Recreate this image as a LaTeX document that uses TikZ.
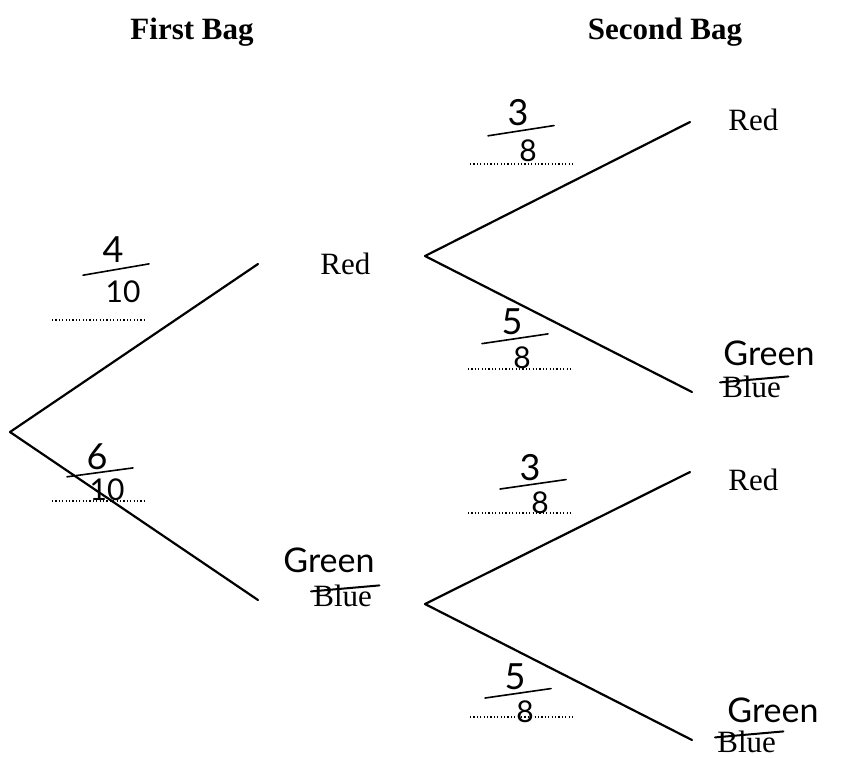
\documentclass[tikz,border=0pt]{standalone}
\usepackage{fontspec}
\setmainfont{Liberation Serif}
\newfontfamily\handfont{Lato}
\usetikzlibrary{calc}
\tikzset{
  branch/.style={line width=1.1pt,line cap=round},
  bagtitle/.style={font=\fontsize{15.5}{18}\selectfont\bfseries,inner sep=0pt,anchor=base},
  outcome/.style={font=\fontsize{15.5}{18}\selectfont,inner sep=0pt,anchor=base west},
  hand/.style={font=\handfont\fontsize{#1}{#1}\selectfont,inner sep=0pt},
  hand/.default=16,
  pen/.style={line width=0.8pt,line cap=round},
  blank/.style={line width=0.6pt,dash pattern=on 0.6pt off 1.1pt},
  strike/.style={line width=1pt,line cap=round},
}
% name, x, y (centre of the top digit), top, bottom, drop to the bottom digit
\newcommand{\probfrac}[6]{%
  \node[hand=18] (#1top) at (#2,#3) {#4};
  \node[hand=15] (#1bot) at (#2+10,#3+#6) {#5};
  \draw[pen] (#2-30,#3+0.6*#6) -- (#2+36,#3+0.33*#6);
}

\begin{document}
\begin{tikzpicture}[x=0.5pt,y=-0.5pt]
  \useasboundingbox (0,0) rectangle (849,757);
  \node[bagtitle] (bag1) at (192,39) {First Bag};
  \node[bagtitle] (bag2) at (665,39) {Second Bag};
  % branch points
  \coordinate (start) at (10,432);
  \coordinate (r1) at (258,264);
  \coordinate (g1) at (258,600);
  \coordinate (rfork) at (425,256);
  \coordinate (gfork) at (425,604);
  \coordinate (rr) at (690,122);
  \coordinate (rg) at (692,392);
  \coordinate (gr) at (690,472);
  \coordinate (gg) at (692,740);
  \draw[branch] (start) -- (r1);
  \draw[branch] (start) -- (g1);
  \draw[branch] (rfork) -- (rr);
  \draw[branch] (rfork) -- (rg);
  \draw[branch] (gfork) -- (gr);
  \draw[branch] (gfork) -- (gg);
  % outcomes
  \node[outcome] (red1) at (320,274) {Red};
  \node[hand=17,anchor=base west] (green1) at (283,572) {Green};
  \node[outcome] (blue1) at (313,606) {Blue};
  \draw[strike] ($(blue1.west)+(-2,-4)$) -- ($(blue1.east)+(7,-10)$);
  \node[outcome] (red2) at (728,130) {Red};
  \node[hand=17,anchor=base west] (green2) at (723,365) {Green};
  \node[outcome] (blue2) at (722,397) {Blue};
  \draw[strike] ($(blue2.west)+(-2,-4)$) -- ($(blue2.east)+(7,-10)$);
  \node[outcome] (red3) at (728,490) {Red};
  \node[hand=17,anchor=base west] (green3) at (727,722) {Green};
  \node[outcome] (blue3) at (717,752) {Blue};
  \draw[strike] ($(blue3.west)+(-2,-4)$) -- ($(blue3.east)+(7,-10)$);
  % probabilities
  \probfrac{pa}{113}{250}{4}{10}{42}
  \probfrac{pb}{97}{457}{6}{10}{33}
  \probfrac{pc}{518}{113}{3}{8}{38}
  \probfrac{pd}{512}{322}{5}{8}{36}
  \probfrac{pe}{530}{468}{3}{8}{35}
  \probfrac{pf}{515}{677}{5}{8}{35}
  \draw[blank] (52,320) -- (147,320);
  \draw[blank] (52,501) -- (147,501);
  \draw[blank] (470,164) -- (573,164);
  \draw[blank] (468,369) -- (572,369);
  \draw[blank] (468,513) -- (572,513);
  \draw[blank] (470,717) -- (573,717);
\end{tikzpicture}
\end{document}
